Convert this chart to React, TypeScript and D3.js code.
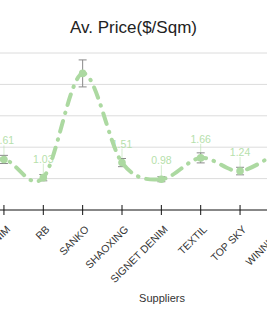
import * as d3 from 'd3'

const WIDTH = 267
const HEIGHT = 322

// suppliers (the chart is cropped: first and last fall outside the frame)
const suppliers = ['NOVA', 'PRIME DENIM', 'RB', 'SANKO', 'SHAOXING', 'SIGNET DENIM', 'TEXTIL', 'TOP SKY', 'WINNITEX']
const avgPrice = [1.4, 1.61, 1.03, 4.35, 1.51, 0.98, 1.66, 1.24, 1.9]
const priceErr = [0.12, 0.13, 0.1, 0.43, 0.13, 0.08, 0.16, 0.12, 0.14]
const showLabel = [true, true, true, false, true, true, true, true, true]
const yTicks = [0, 1, 2, 3, 4, 5]

const LINE_COLOR = '#acd9a1'
const LABEL_COLOR = '#b6dfab'

export default function App() {
  const x = d3.scalePoint<string>().domain(suppliers).range([-35.4, 279.4])
  const y = d3.scaleLinear().domain([0, 5]).range([210, 53])

  const points = suppliers.map((s, i) => ({ s, v: avgPrice[i], e: priceErr[i], label: showLabel[i] }))

  const line = d3.line<typeof points[number]>()
    .x(d => x(d.s)!)
    .y(d => y(d.v))
    .curve(d3.curveCardinal.tension(0))

  return (
    <svg width={WIDTH} height={HEIGHT} style={{ position: 'absolute', left: 0, top: 0, background: '#fff' }}
      fontFamily="'Liberation Sans', Arial, sans-serif">
      <text x={133.5} y={33} textAnchor="middle" fontSize={17} fill="#222">Av. Price($/Sqm)</text>

      {/* grid */}
      {yTicks.slice(1).map(t => (
        <line key={t} x1={0} x2={WIDTH} y1={y(t)} y2={y(t)} stroke="#dcdcdc" strokeWidth={1} />
      ))}

      {/* x axis */}
      <line x1={0} x2={WIDTH} y1={y(0)} y2={y(0)} stroke="#111" strokeWidth={1} />
      {suppliers.map(s => (
        <g key={s} transform={`translate(${x(s)},${y(0)})`}>
          <line y1={-5} y2={5} stroke="#111" />
          <text transform="translate(7,20) rotate(-45)" textAnchor="end" fontSize={10.5} fill="#333">{s}</text>
        </g>
      ))}
      <text x={162} y={302} textAnchor="middle" fontSize={11} fill="#333">Suppliers</text>

      {/* value labels with leader lines */}
      {points.filter(p => p.label).map(p => (
        <g key={p.s}>
          <line x1={x(p.s)} x2={x(p.s)} y1={y(p.v) - 14} y2={y(p.v)} stroke={LABEL_COLOR} strokeWidth={0.6} />
          <text x={x(p.s)} y={y(p.v) - 15} textAnchor="middle" fontSize={10.5} fill={LABEL_COLOR}>{p.v.toFixed(2)}</text>
        </g>
      ))}

      {/* error bars */}
      {points.map(p => (
        <g key={p.s} stroke="#8a8a8a" strokeWidth={1}>
          <line x1={x(p.s)} x2={x(p.s)} y1={y(p.v + p.e)} y2={y(p.v - p.e)} />
          <line x1={x(p.s)! - 4} x2={x(p.s)! + 4} y1={y(p.v + p.e)} y2={y(p.v + p.e)} />
          <line x1={x(p.s)! - 4} x2={x(p.s)! + 4} y1={y(p.v - p.e)} y2={y(p.v - p.e)} />
        </g>
      ))}

      {/* markers */}
      {points.map(p => (
        <circle key={p.s} cx={x(p.s)} cy={y(p.v)} r={3.8} fill={LINE_COLOR} />
      ))}

      <path d={line(points)!} fill="none" stroke={LINE_COLOR} strokeWidth={4}
        strokeLinecap="round" strokeDasharray="11 8 0.5 8" />
    </svg>
  )
}
